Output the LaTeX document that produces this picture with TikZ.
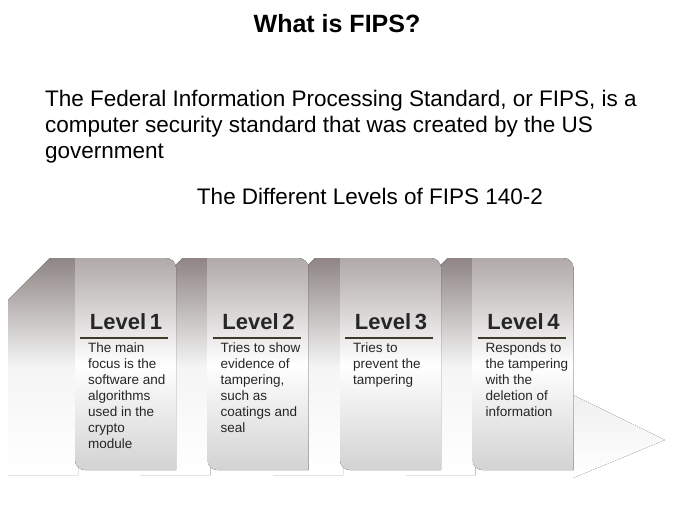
\documentclass[tikz,border=0pt]{standalone}
\usepackage{fontspec}
\setmainfont{Liberation Sans}
\usetikzlibrary{positioning}
\definecolor{rulecol}{HTML}{3F3B2B}
\definecolor{panelgray}{HTML}{8E8584}
\tikzset{
  back/.style = {top color=panelgray, bottom color=white, middle color=white!92!gray},
  front/.style = {top color=panelgray!70, bottom color=gray!35, middle color=white},
  head/.style = {font=\bfseries\fontsize{22}{26}\selectfont, text=black!85},
  body/.style = {font=\fontsize{13.5}{16}\selectfont, align=left, anchor=north west, inner sep=0pt, text=black!85},
  sep/.style = {draw=rulecol, line width=2.5pt}
}
\begin{document}
\begin{tikzpicture}[x=1pt, y=-1pt]
	\useasboundingbox (0,0) rectangle (675,506);
	\node (Title) at (337,24) {\bfseries\fontsize{25}{30}\selectfont What is FIPS?};
	\node (Intro) [anchor=north west, align=left, inner sep=0pt, font=\fontsize{22.5}{26}\selectfont] at (45,90)
	{The Federal Information Processing Standard, or FIPS, is a\\
	 computer security standard that was created by the US\\
	 government};
	\node (Levels) at (370,196) {\fontsize{22.5}{26}\selectfont The Different Levels of FIPS 140-2};
	% back strips first
	\foreach \i in {0,...,3} {
		\fill[back, xshift=132.5*\i] (8,300) -- (50,258) -- (78,258) -- (78,475) -- (8,475) -- cycle;
	}
	% trailing fade
	\fill[top color=gray!12, bottom color=white] (573,395) -- (665,440) -- (573,478) -- cycle;
	% front panels
	\foreach \i/\t in {0/{The main\\focus is the\\software and\\algorithms\\used in the\\crypto\\module},
	                   1/{Tries to show\\evidence of\\tampering,\\such as\\coatings and\\seal},
	                   2/{Tries to\\prevent the\\tampering},
	                   3/{Responds to\\the tampering\\with the\\deletion of\\information}} {
		\begin{scope}[xshift=132.5*\i]
			\fill[front] (75,258) -- (166,258) to[out=0,in=90] (176,268) -- (176,470) -- (85,470) to[out=180,in=-90] (75,460) -- cycle;
			\node (Head\i) [head] at (126,322) {Level\,\pgfmathparse{int(\i+1)}\pgfmathresult};
			\draw[sep] (80,338) -- (168,338);
			\node (Body\i) [body] at (88,343) {\t};
		\end{scope}
	}
\end{tikzpicture}
\end{document}
